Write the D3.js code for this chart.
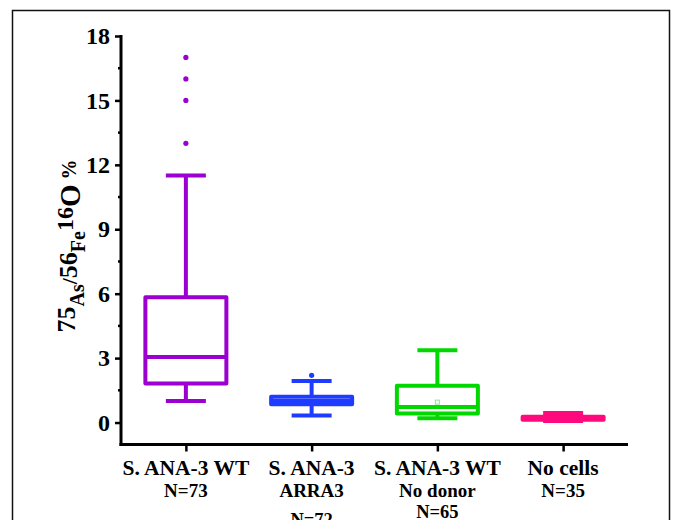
<!DOCTYPE html>
<html>
<head>
<meta charset="utf-8">
<script src="https://cdn.jsdelivr.net/npm/d3@7"></script>
<style>
  body { margin: 0; background: #fff; }
  svg { display: block; }
</style>
</head>
<body>
<svg id="chart" width="673" height="520"></svg>
<script>
// groups, first label line / further label lines
const categories = ['wt', 'arra3', 'nodonor', 'nocells'];
const labelLines = [
  ['S. ANA-3 WT', 'N=73'],
  ['S. ANA-3', 'ARRA3', 'N=72'],
  ['S. ANA-3 WT', 'No donor', 'N=65'],
  ['No cells', 'N=35']
];
const colors = ['#9b00d0', '#1e3cff', '#00d800', '#ff0a7e'];

// box statistics
const whiskerLow = [1.0, 0.33, 0.2, 0.07];
const q1 = [1.82, 0.85, 0.42, 0.13];
const median = [3.05, 1.0, 0.72, 0.2];
const q3 = [5.83, 1.2, 1.71, 0.27];
const whiskerHigh = [11.5, 1.93, 3.36, 0.44];
const outliers = [[13, 15, 16, 17], [2.2], [], []];
const means = [null, null, 0.95, null];

const yTicks = [0, 3, 6, 9, 12, 15, 18];
const yMinorTicks = [1.5, 4.5, 7.5, 10.5, 13.5, 16.5];

const svg = d3.select('#chart');
const serif = '"Liberation Serif", "Times New Roman", serif';

const x = d3.scalePoint().domain(categories).range([123, 626]).padding(0.5);
const y = d3.scaleLinear().domain([-1, 18]).range([444, 36]);

const boxWidth = 81;
const capWidth = 40;

// outer frame
svg.append('rect')
  .attr('x', 12.5).attr('y', 10.5)
  .attr('width', 657).attr('height', 530)
  .attr('fill', 'none')
  .attr('stroke', '#111')
  .attr('stroke-width', 1.5);

// y axis
const yAxis = svg.append('g')
  .attr('transform', 'translate(121,0)')
  .call(d3.axisLeft(y).tickValues(yTicks).tickSize(6).tickSizeOuter(0).tickPadding(5));
yAxis.select('.domain').remove();
yAxis.selectAll('.tick line').attr('stroke', '#000').attr('stroke-width', 2.5);
yAxis.selectAll('.tick text')
  .attr('font-family', serif)
  .attr('font-weight', 'bold')
  .attr('font-size', 24)
  .attr('fill', '#000');

svg.append('g')
  .selectAll('line')
  .data(yMinorTicks)
  .join('line')
  .attr('x1', 118).attr('x2', 121)
  .attr('y1', d => y(d)).attr('y2', d => y(d))
  .attr('stroke', '#000')
  .attr('stroke-width', 2.5);

// x axis
const xAxis = svg.append('g')
  .attr('transform', 'translate(0,444.5)')
  .call(d3.axisBottom(x).tickSize(7).tickFormat(''));
xAxis.select('.domain').remove();
xAxis.selectAll('.tick line').attr('stroke', '#000').attr('stroke-width', 2.5);

// axis lines
svg.append('line')
  .attr('x1', 121).attr('x2', 121)
  .attr('y1', y(18) - 1).attr('y2', 446)
  .attr('stroke', '#000').attr('stroke-width', 3);
svg.append('line')
  .attr('x1', 119.5).attr('x2', 628)
  .attr('y1', 444.5).attr('y2', 444.5)
  .attr('stroke', '#000').attr('stroke-width', 3);

// x labels
const lineY = [475, 497, 517.5];
const lineSize = [21.5, 19, 18.5];
categories.forEach(function (c, i) {
  const t = svg.append('text')
    .attr('x', x(c))
    .attr('text-anchor', 'middle')
    .attr('font-family', serif)
    .attr('font-weight', 'bold')
    .attr('fill', '#000');
  labelLines[i].forEach(function (line, k) {
    // the ARRA3 count sits a bit lower than the others
    let base = lineY[k];
    if (c === 'arra3' && k === 2) { base = 526; }
    t.append('tspan')
      .attr('x', x(c))
      .attr('y', base)
      .attr('font-size', lineSize[k])
      .text(line);
  });
});

// y title
const title = svg.append('text')
  .attr('transform', 'translate(78,246) rotate(-90)')
  .attr('text-anchor', 'middle')
  .attr('font-family', serif)
  .attr('font-weight', 'bold')
  .attr('fill', '#000');
const titleParts = [
  { s: '75', size: 26, dy: -3 },
  { s: 'As', size: 20, dy: 9 },
  { s: '/', size: 22, dy: -7 },
  { s: '56', size: 26, dy: 0 },
  { s: 'Fe', size: 20, dy: 8 },
  { s: '16', size: 24, dy: -12 },
  { s: 'O', size: 29, dy: 7 },
  { s: ' %', size: 20, dy: -4 }
];
titleParts.forEach(function (p) {
  title.append('tspan')
    .attr('font-size', p.size)
    .attr('dy', p.dy)
    .text(p.s);
});

// boxes
categories.forEach(function (c, i) {
  const cx = x(c);
  const g = svg.append('g')
    .attr('stroke', colors[i])
    .attr('stroke-width', 4)
    .attr('fill', 'none')
    .attr('stroke-linejoin', 'round');

  // whiskers
  g.append('line')
    .attr('x1', cx).attr('x2', cx)
    .attr('y1', y(q3[i])).attr('y2', y(whiskerHigh[i]));
  g.append('line')
    .attr('x1', cx).attr('x2', cx)
    .attr('y1', y(q1[i])).attr('y2', y(whiskerLow[i]));
  [whiskerHigh[i], whiskerLow[i]].forEach(function (v) {
    g.append('line')
      .attr('x1', cx - capWidth / 2).attr('x2', cx + capWidth / 2)
      .attr('y1', y(v)).attr('y2', y(v));
  });

  g.append('rect')
    .attr('x', cx - boxWidth / 2)
    .attr('y', y(q3[i]))
    .attr('width', boxWidth)
    .attr('height', y(q1[i]) - y(q3[i]));

  g.append('line')
    .attr('x1', cx - boxWidth / 2).attr('x2', cx + boxWidth / 2)
    .attr('y1', y(median[i])).attr('y2', y(median[i]));

  outliers[i].forEach(function (v) {
    svg.append('circle')
      .attr('cx', cx).attr('cy', y(v))
      .attr('r', 2.6)
      .attr('fill', colors[i]);
  });

  if (means[i] !== null) {
    svg.append('rect')
      .attr('x', cx - 2).attr('y', y(means[i]) - 2)
      .attr('width', 4).attr('height', 4)
      .attr('fill', 'none')
      .attr('stroke', '#8ee88e')
      .attr('stroke-width', 1);
  }
});
</script>
</body>
</html>
